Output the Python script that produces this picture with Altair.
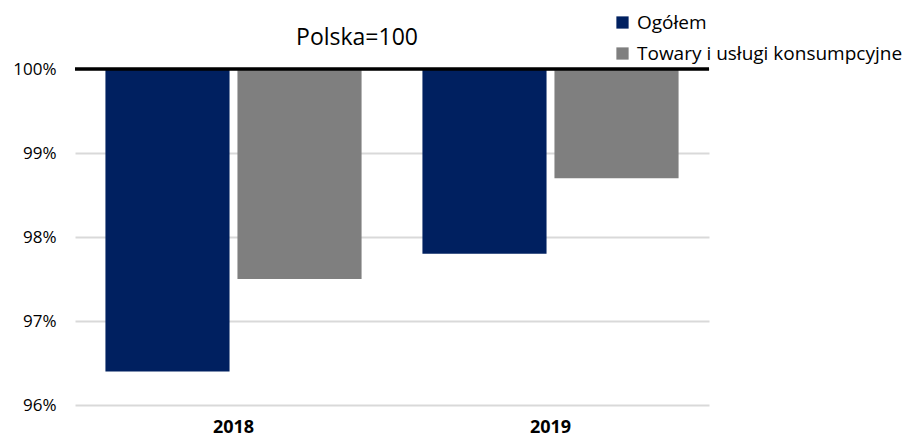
import altair as alt
import pandas as pd

years = ["2018", "2018", "2019", "2019"]
series = ["Ogółem", "Towary i usługi konsumpcyjne", "Ogółem", "Towary i usługi konsumpcyjne"]
values = [0.964, 0.975, 0.978, 0.987]
series_names = ["Ogółem", "Towary i usługi konsumpcyjne"]
colors = ["#002060", "#7F7F7F"]
base_level = 1.0
y_ticks = [0.96, 0.97, 0.98, 0.99, 1.00]
title_text = "Polska=100"

df = pd.DataFrame({"rok": years, "seria": series, "wartosc": values,
                   "baza": [base_level] * len(values)})

FONT = "Open Sans"

bars = alt.Chart(df).mark_bar().encode(
    x=alt.X("rok:N", title=None,
            scale=alt.Scale(paddingInner=0.192, paddingOuter=0.096),
            axis=alt.Axis(labelAngle=0, labelFontWeight="bold", labelFontSize=18,
                          labelFont=FONT, domain=False, ticks=False, labelPadding=13,
                          labelColor="black", grid=False)),
    xOffset=alt.XOffset("seria:N", sort=series_names,
                        scale=alt.Scale(domain=series_names, paddingInner=0.06, paddingOuter=0)),
    y=alt.Y("wartosc:Q", title=None,
            scale=alt.Scale(domain=[0.96, 1.0], nice=False, zero=False),
            axis=alt.Axis(format=".0%", values=y_ticks, domain=False, ticks=False,
                          labelPadding=19, labelFontSize=17, labelFont=FONT,
                          gridColor="#D9D9D9", gridWidth=2, labelColor="black")),
    y2="baza:Q",
    color=alt.Color("seria:N",
                    scale=alt.Scale(domain=series_names, range=colors),
                    legend=alt.Legend(title=None, orient="none", legendX=538, legendY=-56,
                                      symbolType="square", symbolSize=150,
                                      symbolStrokeWidth=0, symbolOpacity=1,
                                      labelFontSize=19, labelFont=FONT, labelColor="black",
                                      labelLimit=0, rowPadding=11, labelOffset=5)),
)

rule = alt.Chart(pd.DataFrame({"baza": [base_level]})).mark_rule(
    color="black", strokeWidth=3.5).encode(y="baza:Q")

chart = alt.layer(bars, rule).properties(
    width=634, height=336,
    title=alt.TitleParams(text=title_text, font=FONT, fontSize=23, fontWeight="normal",
                          color="black", anchor="middle", dx=-35, dy=37, offset=0),
    autosize=alt.AutoSizeParams(type="none"),
    padding={"left": 67, "top": 61, "right": 203, "bottom": 32},
).configure_view(stroke=None)

chart.save("out.html", embed_options={"renderer": "svg", "actions": False})
